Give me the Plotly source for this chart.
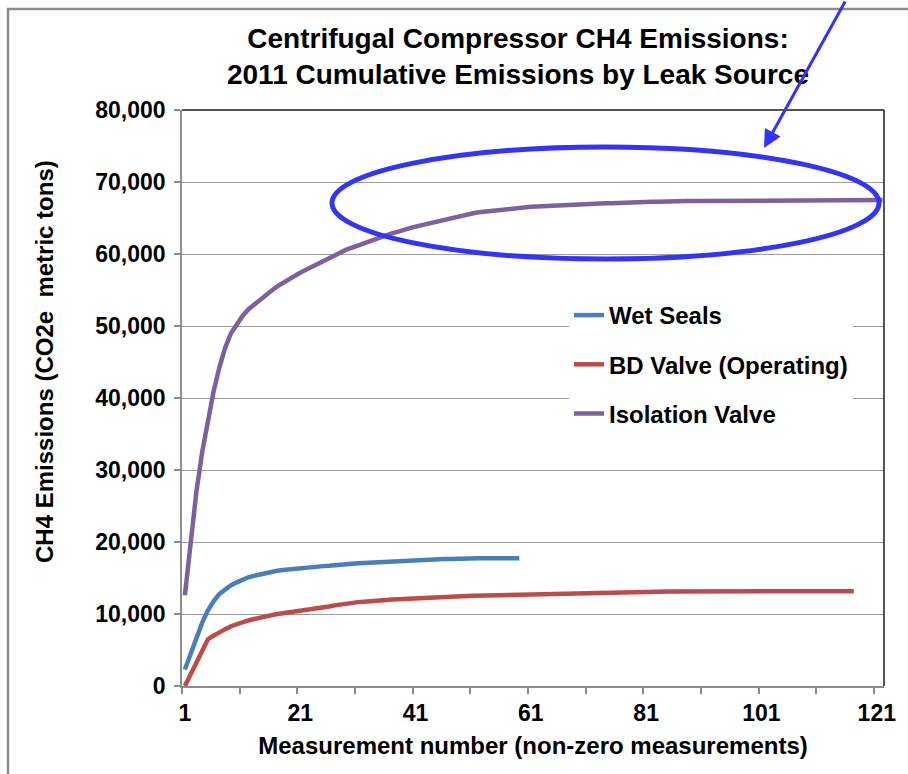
import plotly.graph_objects as go

# ---------------- data ----------------
wet_seals_x = list(range(1, 60))
wet_seals = [2300, 4500, 6800, 8800, 10500, 11800, 12800, 13500, 14000, 14400,
             14800, 15100, 15300, 15500, 15700, 15850, 16000, 16100, 16200, 16300,
             16350, 16450, 16500, 16600, 16650, 16700, 16800, 16850, 16900, 17000,
             17050, 17100, 17150, 17200, 17250, 17300, 17350, 17400, 17450, 17450,
             17500, 17550, 17550, 17600, 17600, 17650, 17650, 17700, 17700, 17700,
             17750, 17750, 17750, 17750, 17750, 17750, 17750, 17750, 17750]

bd_valve_x = list(range(1, 118))
bd_valve = [0, 1700, 3400, 5000, 6500, 7000, 7500, 7900, 8300, 8600,
            8900, 9100, 9300, 9500, 9700, 9850, 10000, 10100, 10200, 10300,
            10400, 10500, 10600, 10750, 10900, 11050, 11200, 11350, 11450, 11550,
            11650, 11700, 11800, 11850, 11900, 11950, 12000, 12050, 12100, 12150,
            12200, 12250, 12300, 12350, 12400, 12420, 12440, 12460, 12480, 12500,
            12520, 12540, 12560, 12580, 12600, 12600, 12620, 12640, 12660, 12680,
            12700, 12710, 12720, 12800, 12810, 12820, 12830, 12840, 12850, 12860,
            12870, 12880, 12890, 12900, 13050, 13060, 13070, 13080, 13090, 13100,
            13100, 13110, 13110, 13120, 13120, 13120, 13130, 13130, 13130, 13150,
            13150, 13150, 13150, 13150, 13150, 13150, 13150, 13150, 13150, 13150,
            13150, 13150, 13150, 13150, 13150, 13150, 13150, 13150, 13150, 13150,
            13150, 13150, 13150, 13150, 13150, 13150, 13150]

isolation_x = list(range(1, 123))
isolation = [12600, 20500, 27000, 32500, 37000, 41000, 44300, 47000, 49000, 50300,
             51400, 52300, 53000, 53700, 54300, 54900, 55500, 56000, 56500, 57000,
             57400, 57800, 58200, 58700, 59100, 59500, 59900, 60200, 60600, 60900,
             61200, 61500, 61800, 62100, 62400, 62600, 62900, 63100, 63400, 63600,
             63800, 64000, 64200, 64400, 64600, 64800, 65000, 65150, 65350, 65500,
             65650, 65800, 65900, 66000, 66100, 66200, 66300, 66350, 66400, 66500,
             66550, 66600, 66650, 66700, 66750, 66800, 66850, 66900, 66900, 66950,
             66950, 67000, 67000, 67050, 67050, 67100, 67100, 67150, 67150, 67200,
             67200, 67250, 67250, 67300, 67300, 67300, 67300, 67350, 67350, 67350,
             67350, 67350, 67350, 67350, 67350, 67500, 67500, 67500, 67500, 67500,
             67500, 67500, 67500, 67500, 67500, 67500, 67500, 67500, 67500, 67500,
             67500, 67500, 67500, 67500, 67500, 67500, 67500, 67500, 67500, 67500,
             67500, 67500]

x_tick_vals = [1, 21, 41, 61, 81, 101, 121]
x_tick_text = ["1", "21", "41", "61", "81", "101", "121"]
y_tick_vals = [0, 10000, 20000, 30000, 40000, 50000, 60000, 70000, 80000]

series_names = ["Wet Seals", "BD Valve (Operating)", "Isolation Valve"]
series_colors = ["#4A7EBB", "#BE4B48", "#7D60A0"]

# ---------------- layout helpers ----------------
W, H = 908, 774
L, R, T, B = 182, 24, 110, 88
PW, PH = W - L - R, H - T - B


def px(xp):
    return (xp - L) / PW


def py(yp):
    return (H - B - yp) / PH


FONT = "Liberation Sans, Arial, sans-serif"

fig = go.Figure()
for i, (xs, ys) in enumerate([(wet_seals_x, wet_seals), (bd_valve_x, bd_valve),
                              (isolation_x, isolation)]):
    fig.add_trace(go.Scatter(
        x=xs, y=ys, mode="lines", name=series_names[i],
        legendgroup=f"g{i}",
        line=dict(color=series_colors[i], width=4.5),
        cliponaxis=True,
    ))

fig.update_layout(
    width=W, height=H,
    margin=dict(l=L, r=R, t=T, b=B, pad=0),
    paper_bgcolor="white", plot_bgcolor="white",
    font=dict(family=FONT, color="black", size=24, weight="bold"),
    title=dict(
        text="Centrifugal Compressor CH4 Emissions:<br>2011 Cumulative Emissions by Leak Source",
        x=518 / W, xanchor="center", y=1 - 48 / H, yanchor="top",
        yref="container", xref="container",
        font=dict(family=FONT, size=28, weight="bold", color="black"),
    ),
    showlegend=True,
    legend=dict(
        x=px(569), y=py(293), xanchor="left", yanchor="top",
        bgcolor="white", borderwidth=0,
        font=dict(family=FONT, size=24, weight="bold", color="black"),
        tracegroupgap=15,
        itemwidth=30,
    ),
    xaxis=dict(
        range=[0.5, 122.25],
        tickmode="array", tickvals=x_tick_vals, ticktext=x_tick_text,
        ticks="", showgrid=False, zeroline=False,
        showline=True, linecolor="#8C8C8C", linewidth=1.5,
        tickfont=dict(family=FONT, size=23, weight="bold"),
        ticklabelstandoff=6,
        minor=dict(tickmode="linear", tick0=0.5, dtick=10, ticks="outside",
                   ticklen=6, tickcolor="#8C8C8C", tickwidth=1.5, showgrid=False),
        title=dict(text="Measurement number (non-zero measurements)",
                   font=dict(family=FONT, size=24, weight="bold"), standoff=12),
        fixedrange=True,
    ),
    yaxis=dict(
        range=[0, 80000],
        tickmode="array", tickvals=y_tick_vals, tickformat=",d",
        ticks="outside", ticklen=6, tickcolor="#8C8C8C", tickwidth=1.5,
        showgrid=True, gridcolor="#9E9E9E", gridwidth=1.2,
        zeroline=False,
        showline=True, linecolor="#8C8C8C", linewidth=1.5,
        tickfont=dict(family=FONT, size=23, weight="bold"),
        ticklabelstandoff=4,
        fixedrange=True,
    ),
)

# y-axis title (placed as in the reference, slightly above the plot centre)
fig.add_annotation(xref="paper", yref="paper", x=px(44), y=py(362),
                   xanchor="center", yanchor="middle", textangle=-90,
                   text="CH4 Emissions (CO2e\u00a0 metric tons)", showarrow=False,
                   font=dict(family=FONT, size=24, weight="bold", color="black"))

# plot-area top/right border
fig.add_shape(type="line", xref="paper", yref="paper", x0=0, x1=1, y0=1, y1=1,
              line=dict(color="#1A1A1A", width=1.5), layer="above")
fig.add_shape(type="line", xref="paper", yref="paper", x0=1, x1=1, y0=0, y1=1,
              line=dict(color="#1A1A1A", width=1.5), layer="above")

# outer chart frame (left + top)
fig.add_shape(type="path", xref="paper", yref="paper",
              path=f"M {px(8)} {py(H + 5)} L {px(8)} {py(9)} L {px(W + 5)} {py(9)}",
              line=dict(color="#8C8C8C", width=2.5), layer="above")

# highlight ellipse
fig.add_shape(type="circle", xref="paper", yref="paper",
              x0=px(332), x1=px(879), y0=py(259), y1=py(147),
              line=dict(color="#3333FF", width=5), layer="above")

# arrow
fig.add_annotation(xref="paper", yref="paper", x=px(764), y=py(148),
                   ax=82, ay=-152, text="", showarrow=True,
                   arrowhead=2, arrowsize=1.2, arrowwidth=3,
                   arrowcolor="#3333FF")

fig.write_html("out.html",
               config={"displayModeBar": False},
               post_script="document.body.style.margin='0px';"
                           "document.body.style.overflow='hidden';")
